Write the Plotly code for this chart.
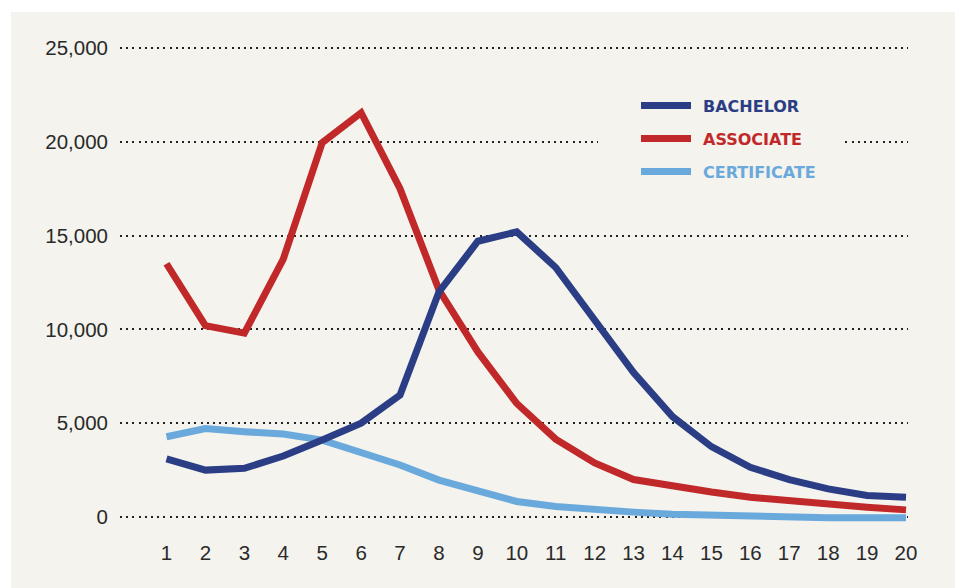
import plotly.graph_objects as go

years = list(range(1, 21))
bachelor = [3100, 2500, 2600, 3250, 4100, 5000, 6500, 12000, 14700, 15200,
            13300, 10500, 7700, 5350, 3750, 2650, 1990, 1500, 1150, 1050]
associate = [13500, 10200, 9800, 13750, 19950, 21550, 17500, 12100, 8800, 6050,
             4150, 2880, 2000, 1650, 1330, 1050, 860, 640, 520, 380]
certificate = [4280, 4720, 4550, 4420, 4100, 3480, 2770, 1970, 1420, 830,
               560, 380, 260, 150, 80, 20, -40, -40, -40, -40]
y_ticks = [0, 5000, 10000, 15000, 20000, 25000]
y_ticklabels = ["0", "5,000", "10,000", "15,000", "20,000", "25,000"]

series = [("BACHELOR", bachelor, "#2b3e85"),
          ("ASSOCIATE", associate, "#c1282a"),
          ("CERTIFICATE", certificate, "#6aa9dc")]

W, H = 955, 588
L, R, T, B = 120, 47, 40, 63
pw, ph = W - L - R, H - T - B
BG = "#f4f3ed"

def px(x):  # page pixel -> paper
    return (x - L) / pw

def py(y):
    return (H - B - y) / ph

fig = go.Figure()
for name, vals, col in series[::-1]:
    fig.add_trace(go.Scatter(x=years, y=vals, mode="lines", name=name,
                             line=dict(color=col, width=7), showlegend=False,
                             hoverinfo="skip"))

shapes = [dict(type="rect", xref="paper", yref="paper", x0=px(11), x1=px(980),
               y0=py(620), y1=py(12), fillcolor=BG, line=dict(width=0),
               layer="below"),
          dict(type="rect", xref="paper", yref="paper", x0=px(598), x1=px(844),
               y0=py(195), y1=py(80), fillcolor=BG, line=dict(width=0),
               layer="above")]
annotations = []
leg_y = [105.5, 138.5, 171.5]
for (name, vals, col), yy in zip(series, leg_y):
    shapes.append(dict(type="line", xref="paper", yref="paper", x0=px(641), x1=px(691),
                       y0=py(yy), y1=py(yy), line=dict(color=col, width=7),
                       layer="above"))
    annotations.append(dict(xref="paper", yref="paper", x=px(701), y=py(yy + 1),
                            text="<b>%s</b>" % name, showarrow=False, xanchor="left",
                            yanchor="middle",
                            font=dict(family="DejaVu Sans", size=16, color=col)))

fig.update_layout(
    width=W, height=H,
    margin=dict(l=L, r=R, t=T, b=B),
    paper_bgcolor="white",
    plot_bgcolor="rgba(0,0,0,0)",
    shapes=shapes,
    annotations=annotations,
    font=dict(family="Liberation Sans, Arial", size=20.5, color="#2a2a2a"),
    xaxis=dict(range=[-0.195, 20.051], tickvals=years, showgrid=False, zeroline=False,
               showline=False, ticks="", ticklabelstandoff=13,
               tickfont=dict(size=20.5, color="#2a2a2a")),
    yaxis=dict(range=[-426, 25426], tickvals=y_ticks, ticktext=y_ticklabels,
               showgrid=True, gridcolor="#222222", gridwidth=2, griddash="2px,4.2px",
               zeroline=False, showline=False, ticks="", ticklabelstandoff=11,
               tickfont=dict(size=20.5, color="#2a2a2a")),
)

fig.write_html("out.html", config={"displayModeBar": False},
               post_script="document.body.style.margin='0';document.body.style.overflow='hidden';")
